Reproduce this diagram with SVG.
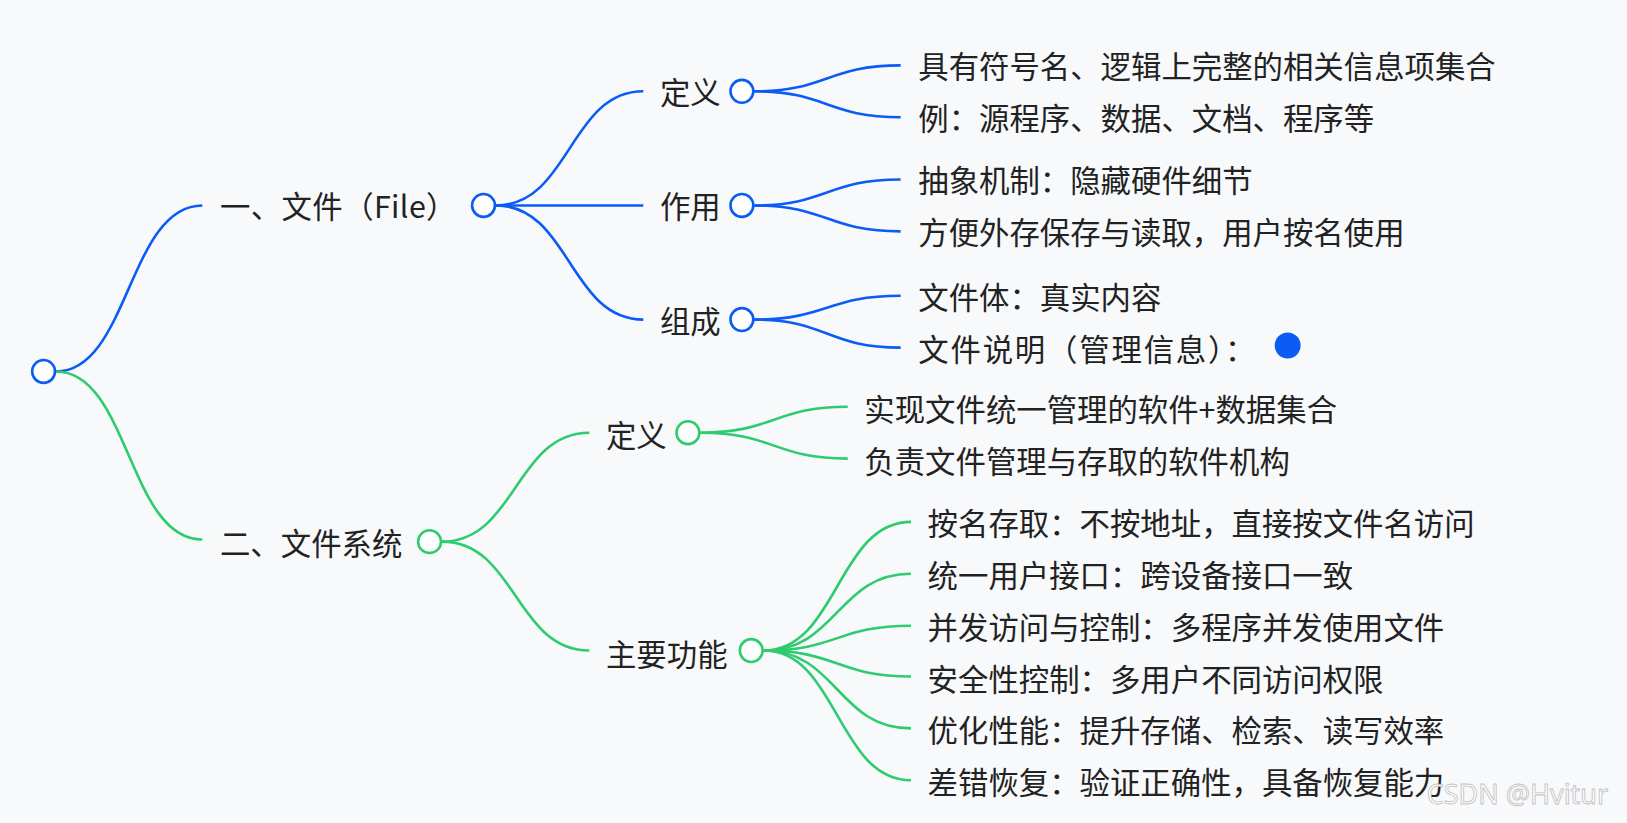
<svg xmlns="http://www.w3.org/2000/svg" width="1627" height="823" viewBox="0 0 1627 823">
<style>
.t{font-family:"Noto Sans CJK SC","Noto Sans",sans-serif;font-size:29.3px;fill:#222;dominant-baseline:central}
.b{fill:none;stroke:#0a5cf5;stroke-width:2.5}
.g{fill:none;stroke:#2ecc6e;stroke-width:2.5}
.cb{fill:#fff;stroke:#0a5cf5;stroke-width:2.5}
.cg{fill:#fff;stroke:#2ecc6e;stroke-width:2.5}
</style>
<rect width="1627" height="823" fill="#f8f9fb"/>
<g transform="scale(1.0376)">
<g id="connectors">
<path class="b" d="M54 358 C124 358 124 198 195 198"/>
<path class="g" d="M54 358 C124 358 124 520 195 520"/>
<path class="b" d="M478 198 C549 198 549 88 620 88"/>
<path class="b" d="M478 198 H620"/>
<path class="b" d="M478 198 C549 198 549 308 620 308"/>
<path class="b" d="M727 88 C797 88 797 63 868 63"/>
<path class="b" d="M727 88 C797 88 797 113 868 113"/>
<path class="b" d="M727 198 C797 198 797 173 868 173"/>
<path class="b" d="M727 198 C797 198 797 223 868 223"/>
<path class="b" d="M727 308 C797 308 797 285 868 285"/>
<path class="b" d="M727 308 C797 308 797 335 868 335"/>
<path class="g" d="M426 522 C497 522 497 417 568 417"/>
<path class="g" d="M426 522 C497 522 497 627 568 627"/>
<path class="g" d="M675 417 C746 417 746 392 817 392"/>
<path class="g" d="M675 417 C746 417 746 442 817 442"/>
<path class="g" d="M736 627 C807 627 807 503 878 503"/>
<path class="g" d="M736 627 C807 627 807 553 878 553"/>
<path class="g" d="M736 627 C807 627 807 603 878 603"/>
<path class="g" d="M736 627 C807 627 807 652 878 652"/>
<path class="g" d="M736 627 C807 627 807 702 878 702"/>
<path class="g" d="M736 627 C807 627 807 752 878 752"/>
</g>
<g id="root"><circle class="cb" cx="42" cy="358" r="11"/></g>
<g id="file"><text class="t" x="212" y="198" textLength="228">一、文件（File）</text><circle class="cb" cx="466" cy="198" r="11"/></g>
<g id="def1"><text class="t" x="636" y="88">定义</text><circle class="cb" cx="715" cy="88" r="11"/></g>
<g id="use"><text class="t" x="636" y="198">作用</text><circle class="cb" cx="715" cy="198" r="11"/></g>
<g id="comp"><text class="t" x="636" y="308">组成</text><circle class="cb" cx="715" cy="308" r="11"/></g>
<g id="l1"><text class="t" x="885" y="63">具有符号名、逻辑上完整的相关信息项集合</text></g>
<g id="l2"><text class="t" x="885" y="113">例：源程序、数据、文档、程序等</text></g>
<g id="l3"><text class="t" x="885" y="173">抽象机制：隐藏硬件细节</text></g>
<g id="l4"><text class="t" x="885" y="223">方便外存保存与读取，用户按名使用</text></g>
<g id="l5"><text class="t" x="885" y="285">文件体：真实内容</text></g>
<g id="l6"><text class="t" x="885" y="335" textLength="325">文件说明（管理信息）：</text><circle cx="1241" cy="333" r="12.5" fill="#0a5cf5"/></g>
<g id="fs"><text class="t" x="212" y="522">二、文件系统</text><circle class="cg" cx="414" cy="522" r="11"/></g>
<g id="def2"><text class="t" x="584" y="418">定义</text><circle class="cg" cx="663" cy="417" r="11"/></g>
<g id="func"><text class="t" x="584" y="629">主要功能</text><circle class="cg" cx="724" cy="627" r="11"/></g>
<g id="g1"><text class="t" x="833" y="393">实现文件统一管理的软件+数据集合</text></g>
<g id="g2"><text class="t" x="833" y="443">负责文件管理与存取的软件机构</text></g>
<g id="f1"><text class="t" x="894" y="503">按名存取：不按地址，直接按文件名访问</text></g>
<g id="f2"><text class="t" x="894" y="553">统一用户接口：跨设备接口一致</text></g>
<g id="f3"><text class="t" x="894" y="603">并发访问与控制：多程序并发使用文件</text></g>
<g id="f4"><text class="t" x="894" y="653">安全性控制：多用户不同访问权限</text></g>
<g id="f5"><text class="t" x="894" y="703">优化性能：提升存储、检索、读写效率</text></g>
<g id="f6"><text class="t" x="894" y="753">差错恢复：验证正确性，具备恢复能力</text></g>
<text x="1375" y="775" font-family="Noto Sans,sans-serif" font-size="26" fill="#fff" stroke="#bbb" stroke-width="0.8" opacity="0.9">CSDN @Hvitur</text>
</g>
</svg>
